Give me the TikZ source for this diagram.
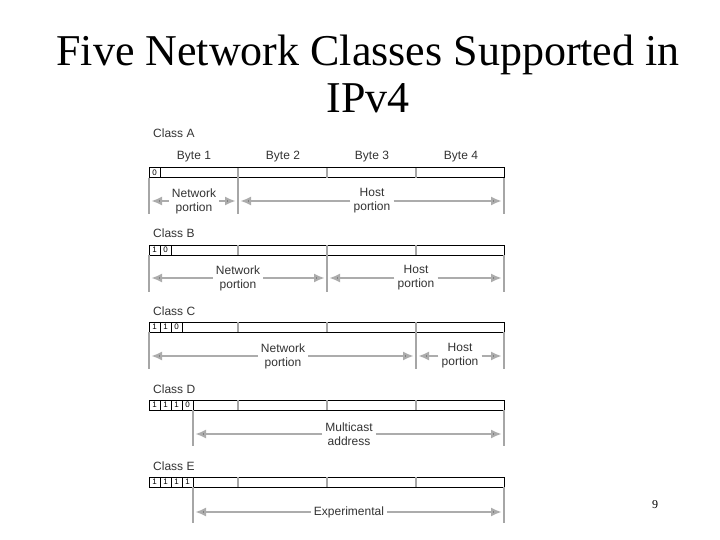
\documentclass[tikz,border=0pt]{standalone}
\usepackage{fontspec}
\setmainfont{Liberation Serif}
\newfontfamily\diag{Liberation Sans}
\usetikzlibrary{arrows.meta}
\tikzset{
  lbl/.style={font=\diag\fontsize{12}{13}\selectfont, text=black!80, inner sep=1pt},
  txt/.style={lbl, align=center, fill=white, inner sep=3pt, font=\diag\fontsize{12}{14}\selectfont},
  bit/.style={font=\diag\fontsize{8}{8}\selectfont, inner sep=0pt},
  gap/.style={draw=gray!65, line width=2.6pt, -{Latex[length=11pt,width=9pt,fill=black!80]}},
  edge/.style={draw=gray!70, line width=1.4pt},
}
% one address bar: top y, list of bits
\newcommand\ipbar[2]{%
  \draw[line width=1pt] (149,#1) rectangle (504,#1+10);
  \foreach \bx in {238,327,416} \draw[gray!70, line width=1.2pt] (\bx,#1) -- (\bx,#1+10);
  \foreach \b [count=\i] in {#2} {
    \draw[line width=0.6pt] (149+11*\i,#1) -- (149+11*\i,#1+10);
    \node[bit] at (143.5+11*\i,#1+5) {\b};
  }
}
\begin{document}
\begin{tikzpicture}[x=1pt,y=-1pt]
\useasboundingbox (0,0) rectangle (720,540);
\node (title) at (368,74) [align=center, font=\fontsize{44}{47}\selectfont]
  {Five Network Classes Supported in\\IPv4};
\node (page) at (655,505) [font=\fontsize{12}{12}\selectfont] {9};

% Class A
\node[lbl, anchor=west] (ca) at (152,133) {Class A};
\foreach \t [count=\i] in {1,2,3,4}
  \node[lbl] (byte\i) at (105+89*\i,157) {Byte \t};
\ipbar{168}{0}
\foreach \bx in {149,238,504} \draw[edge] (\bx,178) -- (\bx,214);
\node[txt] (na) at (194,201) {Network\\portion};
\node[txt] (ha) at (372,201) {Host\\portion};
\coordinate (a1) at (151,201); \coordinate (a2) at (236,201);
\coordinate (a3) at (240,201); \coordinate (a4) at (502,201);
\draw[gap] (na.west) -- (a1); \draw[gap] (na.east) -- (a2);
\draw[gap] (ha.west) -- (a3); \draw[gap] (ha.east) -- (a4);

% Class B
\node[lbl, anchor=west] (cb) at (152,233) {Class B};
\ipbar{245}{1,0}
\foreach \bx in {149,327,504} \draw[edge] (\bx,255) -- (\bx,292);
\node[txt] (nb) at (238,278) {Network\\portion};
\node[txt] (hb) at (416,278) {Host\\portion};
\coordinate (b1) at (151,278); \coordinate (b2) at (325,278);
\coordinate (b3) at (329,278); \coordinate (b4) at (502,278);
\draw[gap] (nb.west) -- (b1); \draw[gap] (nb.east) -- (b2);
\draw[gap] (hb.west) -- (b3); \draw[gap] (hb.east) -- (b4);

% Class C
\node[lbl, anchor=west] (cc) at (152,311) {Class C};
\ipbar{322}{1,1,0}
\foreach \bx in {149,416,504} \draw[edge] (\bx,332) -- (\bx,369);
\node[txt] (nc) at (283,356) {Network\\portion};
\node[txt] (hc) at (460,356) {Host\\portion};
\coordinate (c1) at (151,356); \coordinate (c2) at (414,356);
\coordinate (c3) at (418,356); \coordinate (c4) at (502,356);
\draw[gap] (nc.west) -- (c1); \draw[gap] (nc.east) -- (c2);
\draw[gap] (hc.west) -- (c3); \draw[gap] (hc.east) -- (c4);

% Class D
\node[lbl, anchor=west] (cd) at (152,389) {Class D};
\ipbar{400}{1,1,1,0}
\foreach \bx in {193,504} \draw[edge] (\bx,410) -- (\bx,446);
\node[txt] (md) at (349,434) {Multicast\\address};
\coordinate (d1) at (195,434); \coordinate (d2) at (502,434);
\draw[gap] (md.west) -- (d1); \draw[gap] (md.east) -- (d2);

% Class E
\node[lbl, anchor=west] (ce) at (152,466) {Class E};
\ipbar{477}{1,1,1,1}
\foreach \bx in {193,504} \draw[edge] (\bx,487) -- (\bx,523);
\node[txt] (xe) at (349,512) {Experimental};
\coordinate (e1) at (195,512); \coordinate (e2) at (502,512);
\draw[gap] (xe.west) -- (e1); \draw[gap] (xe.east) -- (e2);
\end{tikzpicture}
\end{document}
